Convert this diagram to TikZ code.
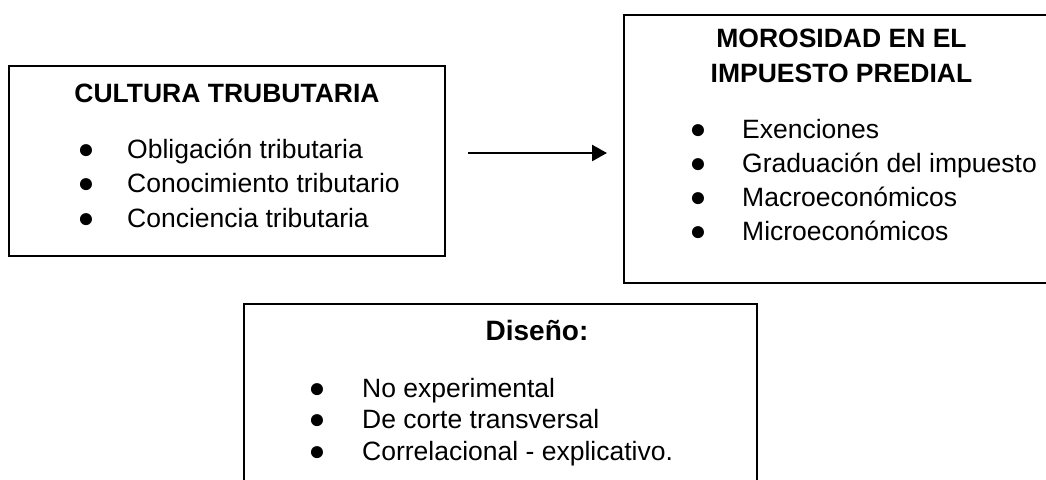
\documentclass[tikz,border=0pt]{standalone}
\usepackage{fontspec}
\setmainfont{Liberation Sans}
\usetikzlibrary{arrows.meta}
\newcommand{\itm}[2]{\makebox[#1][l]{\fontsize{28}{28}\selectfont ●}#2}
\begin{document}
\begin{tikzpicture}[x=1pt,y=-1pt,
  box/.style={draw=black, line width=1.5pt, inner sep=0pt, rectangle},
  txt/.style={inner sep=0pt, anchor=base west, font=\fontsize{26.5}{34}\selectfont},
  ttl/.style={inner sep=0pt, anchor=base, font=\fontsize{26.5}{34}\selectfont\bfseries},
  conn/.style={line width=2.5pt, -{Triangle[length=15pt,width=16pt]}}]
\useasboundingbox (0,0) rectangle (1046,479);
\clip (0,0) rectangle (1046,479);
% boxes
\node[box, minimum width=436pt, minimum height=190pt] (cultura) at (227,161) {};
\node[box, minimum width=446pt, minimum height=268pt] (morosidad) at (847,149) {};
\node[box, minimum width=513pt, minimum height=216pt] (diseno) at (500.5,412) {};
% left box
\node[ttl] (t1) at (227,102) {CULTURA TRUBUTARIA};
\node[txt] (i11) at (77.5,158) {\itm{49.5pt}{Obligación tributaria}};
\node[txt] (i12) at (77.5,192.5) {\itm{49.5pt}{Conocimiento tributario}};
\node[txt] (i13) at (77.5,227) {\itm{49.5pt}{Conciencia tributaria}};
% right box
\node[ttl] (t2a) at (841.5,47) {MOROSIDAD EN EL};
\node[ttl] (t2b) at (841.5,82) {IMPUESTO PREDIAL};
\node[txt] (i21) at (689.5,138.5) {\itm{52.5pt}{Exenciones}};
\node[txt] (i22) at (689.5,172.5) {\itm{52.5pt}{Graduación del impuesto}};
\node[txt] (i23) at (689.5,206.5) {\itm{52.5pt}{Macroeconómicos}};
\node[txt] (i24) at (689.5,240.5) {\itm{52.5pt}{Microeconómicos}};
% bottom box
\node[ttl, font=\fontsize{28}{34}\selectfont\bfseries] (t3) at (537,340) {Diseño:};
\node[txt] (i31) at (308.5,397) {\itm{53.5pt}{No experimental}};
\node[txt] (i32) at (308.5,428.5) {\itm{53.5pt}{De corte transversal}};
\node[txt] (i33) at (308.5,460) {\itm{53.5pt}{Correlacional - explicativo.}};
% arrow
\coordinate (a0) at (468,153);
\coordinate (a1) at (607,153);
\draw[conn] (a0) -- (a1);
\end{tikzpicture}
\end{document}
